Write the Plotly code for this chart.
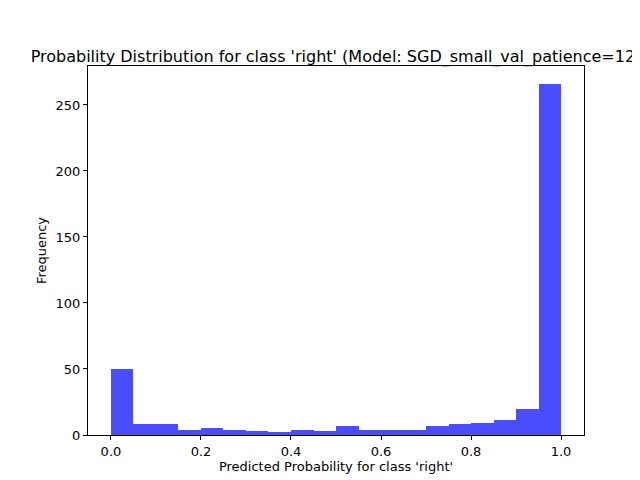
import plotly.graph_objects as go

bin_starts = [i * 0.05 for i in range(20)]
counts = [50, 8, 8, 4, 5, 4, 3, 2, 4, 3, 7, 4, 4, 4, 7, 8, 9, 11, 20, 266]
xticks = [0.0, 0.2, 0.4, 0.6, 0.8, 1.0]
yticks = [0, 50, 100, 150, 200, 250]

centers = [b + 0.025 for b in bin_starts]

fig = go.Figure()
fig.add_trace(go.Bar(x=centers, y=counts, width=0.05,
                     marker=dict(color='rgba(0,0,255,0.7)', line=dict(width=0))))

ax = dict(showgrid=False, zeroline=False, showline=True, mirror=True,
          linecolor='black', linewidth=1, ticks='outside', ticklen=4,
          tickcolor='black', tickfont=dict(size=13, color='black'), automargin=False)

fig.update_layout(
    width=640, height=480, plot_bgcolor='white', paper_bgcolor='white',
    margin=dict(l=80, r=64, t=58, b=53, autoexpand=False),
    font=dict(family='DejaVu Sans', color='black'),
    title=dict(text="Probability Distribution for class 'right' (Model: SGD_small_val_patience=12)",
               x=0.5125, xanchor='center', y=0.9, yanchor='middle',
               font=dict(size=16, color='black'), automargin=False),
    xaxis=dict(ax, range=[-0.051, 1.051], tickvals=xticks,
               ticktext=[f'{v:.1f}' for v in xticks],
               title=dict(text="Predicted Probability for class 'right'", font=dict(size=13), standoff=4)),
    yaxis=dict(ax, range=[0, 279.5], tickvals=yticks,
               title=dict(text='Frequency', font=dict(size=13), standoff=6)),
    bargap=0, showlegend=False,
)

fig.write_html("out.html")
